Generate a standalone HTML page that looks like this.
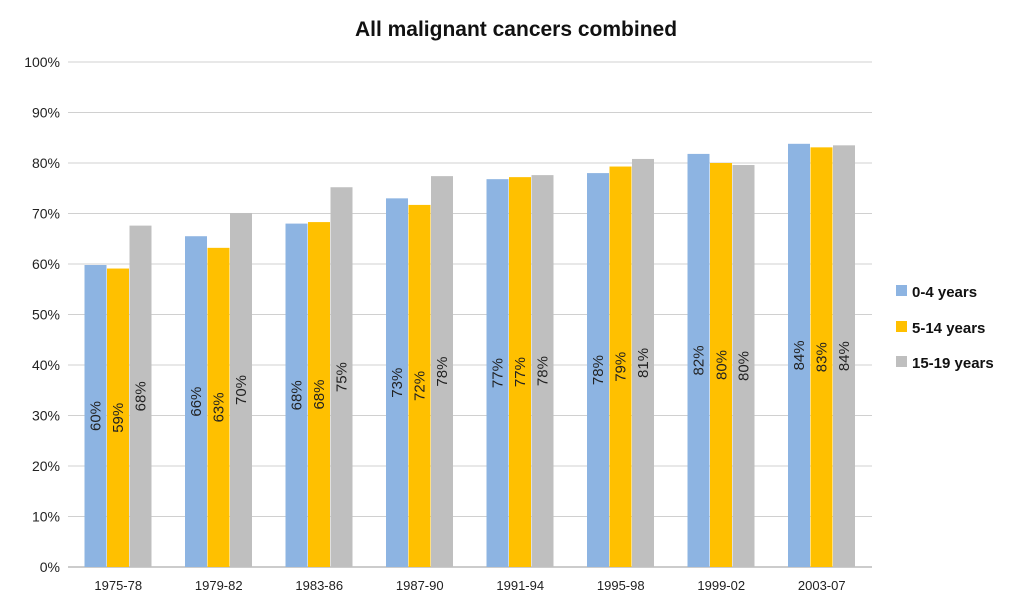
<!DOCTYPE html>
<html><head><meta charset="utf-8"><style>
body{margin:0;background:#fff;}
svg{display:block;font-family:"Liberation Sans",sans-serif;}
</style></head><body>
<svg id="chart" width="1024" height="609" viewBox="0 0 1024 609">
<text x="516" y="36" text-anchor="middle" font-size="21" font-weight="bold" fill="#111">All malignant cancers combined</text>
<g id="grid"></g><g id="bars"></g><g id="labels"></g>
<g>
<rect x="896" y="285" width="11" height="11" fill="#8DB4E2"/>
<text x="912" y="297" font-size="15" font-weight="bold" fill="#111">0-4 years</text>
<rect x="896" y="321" width="11" height="11" fill="#FFC000"/>
<text x="912" y="333" font-size="15" font-weight="bold" fill="#111">5-14 years</text>
<rect x="896" y="356" width="11" height="11" fill="#BFBFBF"/>
<text x="912" y="368" font-size="15" font-weight="bold" fill="#111">15-19 years</text>
</g>
</svg>
<script>
const categories=["1975-78","1979-82","1983-86","1987-90","1991-94","1995-98","1999-02","2003-07"];
const s04=[59.8,65.5,68,73,76.8,78,81.8,83.8];
const s514=[59.1,63.2,68.3,71.7,77.2,79.3,80,83.1];
const s1519=[67.6,70.1,75.2,77.4,77.6,80.8,79.6,83.5];
const lab04=["60%","66%","68%","73%","77%","78%","82%","84%"];
const lab514=["59%","63%","68%","72%","77%","79%","80%","83%"];
const lab1519=["68%","70%","75%","78%","78%","81%","80%","84%"];
const yTicks=[0,10,20,30,40,50,60,70,80,90,100];
const NS="http://www.w3.org/2000/svg";
const x0=68,x1=872,yb=567,yt=62;
const gw=(x1-x0)/categories.length,bw=22.5;
const y=v=>yb-(v/100)*(yb-yt);
function mk(tag,attrs,parent){const e=document.createElementNS(NS,tag);for(const k in attrs)e.setAttribute(k,attrs[k]);parent.appendChild(e);return e;}
const grid=document.getElementById('grid'),bars=document.getElementById('bars'),labels=document.getElementById('labels');
yTicks.forEach(t=>{
 const l=mk('line',{x1:x0,x2:x1,y1:y(t),y2:y(t),stroke:t===0?'#999':'#d0d0d0','stroke-width':1},grid);
 
 
 const tx=mk('text',{x:x0-8,y:y(t)+5,'text-anchor':'end','font-size':14,fill:'#222'},grid);
 tx.textContent=t+'%';
 
 
});
const series=[[s04,lab04,'#8DB4E2'],[s514,lab514,'#FFC000'],[s1519,lab1519,'#BFBFBF']];
categories.forEach((c,i)=>{
 const cx=x0+gw*(i+0.5);
 const tx=mk('text',{x:cx,y:590,'text-anchor':'middle','font-size':13,fill:'#222'},grid);
 tx.textContent=c;
 
 
 series.forEach((s,j)=>{
  const bx=cx-1.5*bw+j*bw;
  const r=mk('rect',{x:bx,y:y(s[0][i]),width:bw-0.5,height:yb-y(s[0][i]),fill:s[2]},bars);
  
  
  const mx=bx+bw/2+5,my=(y(s[0][i])+yb)/2;
  const t=mk('text',{x:mx,y:my,'text-anchor':'middle','font-size':15,fill:'#222',transform:`rotate(-90 ${mx} ${my})`},labels);
  t.textContent=s[1][i];
  
  
 });
});
</script>
</body></html>
